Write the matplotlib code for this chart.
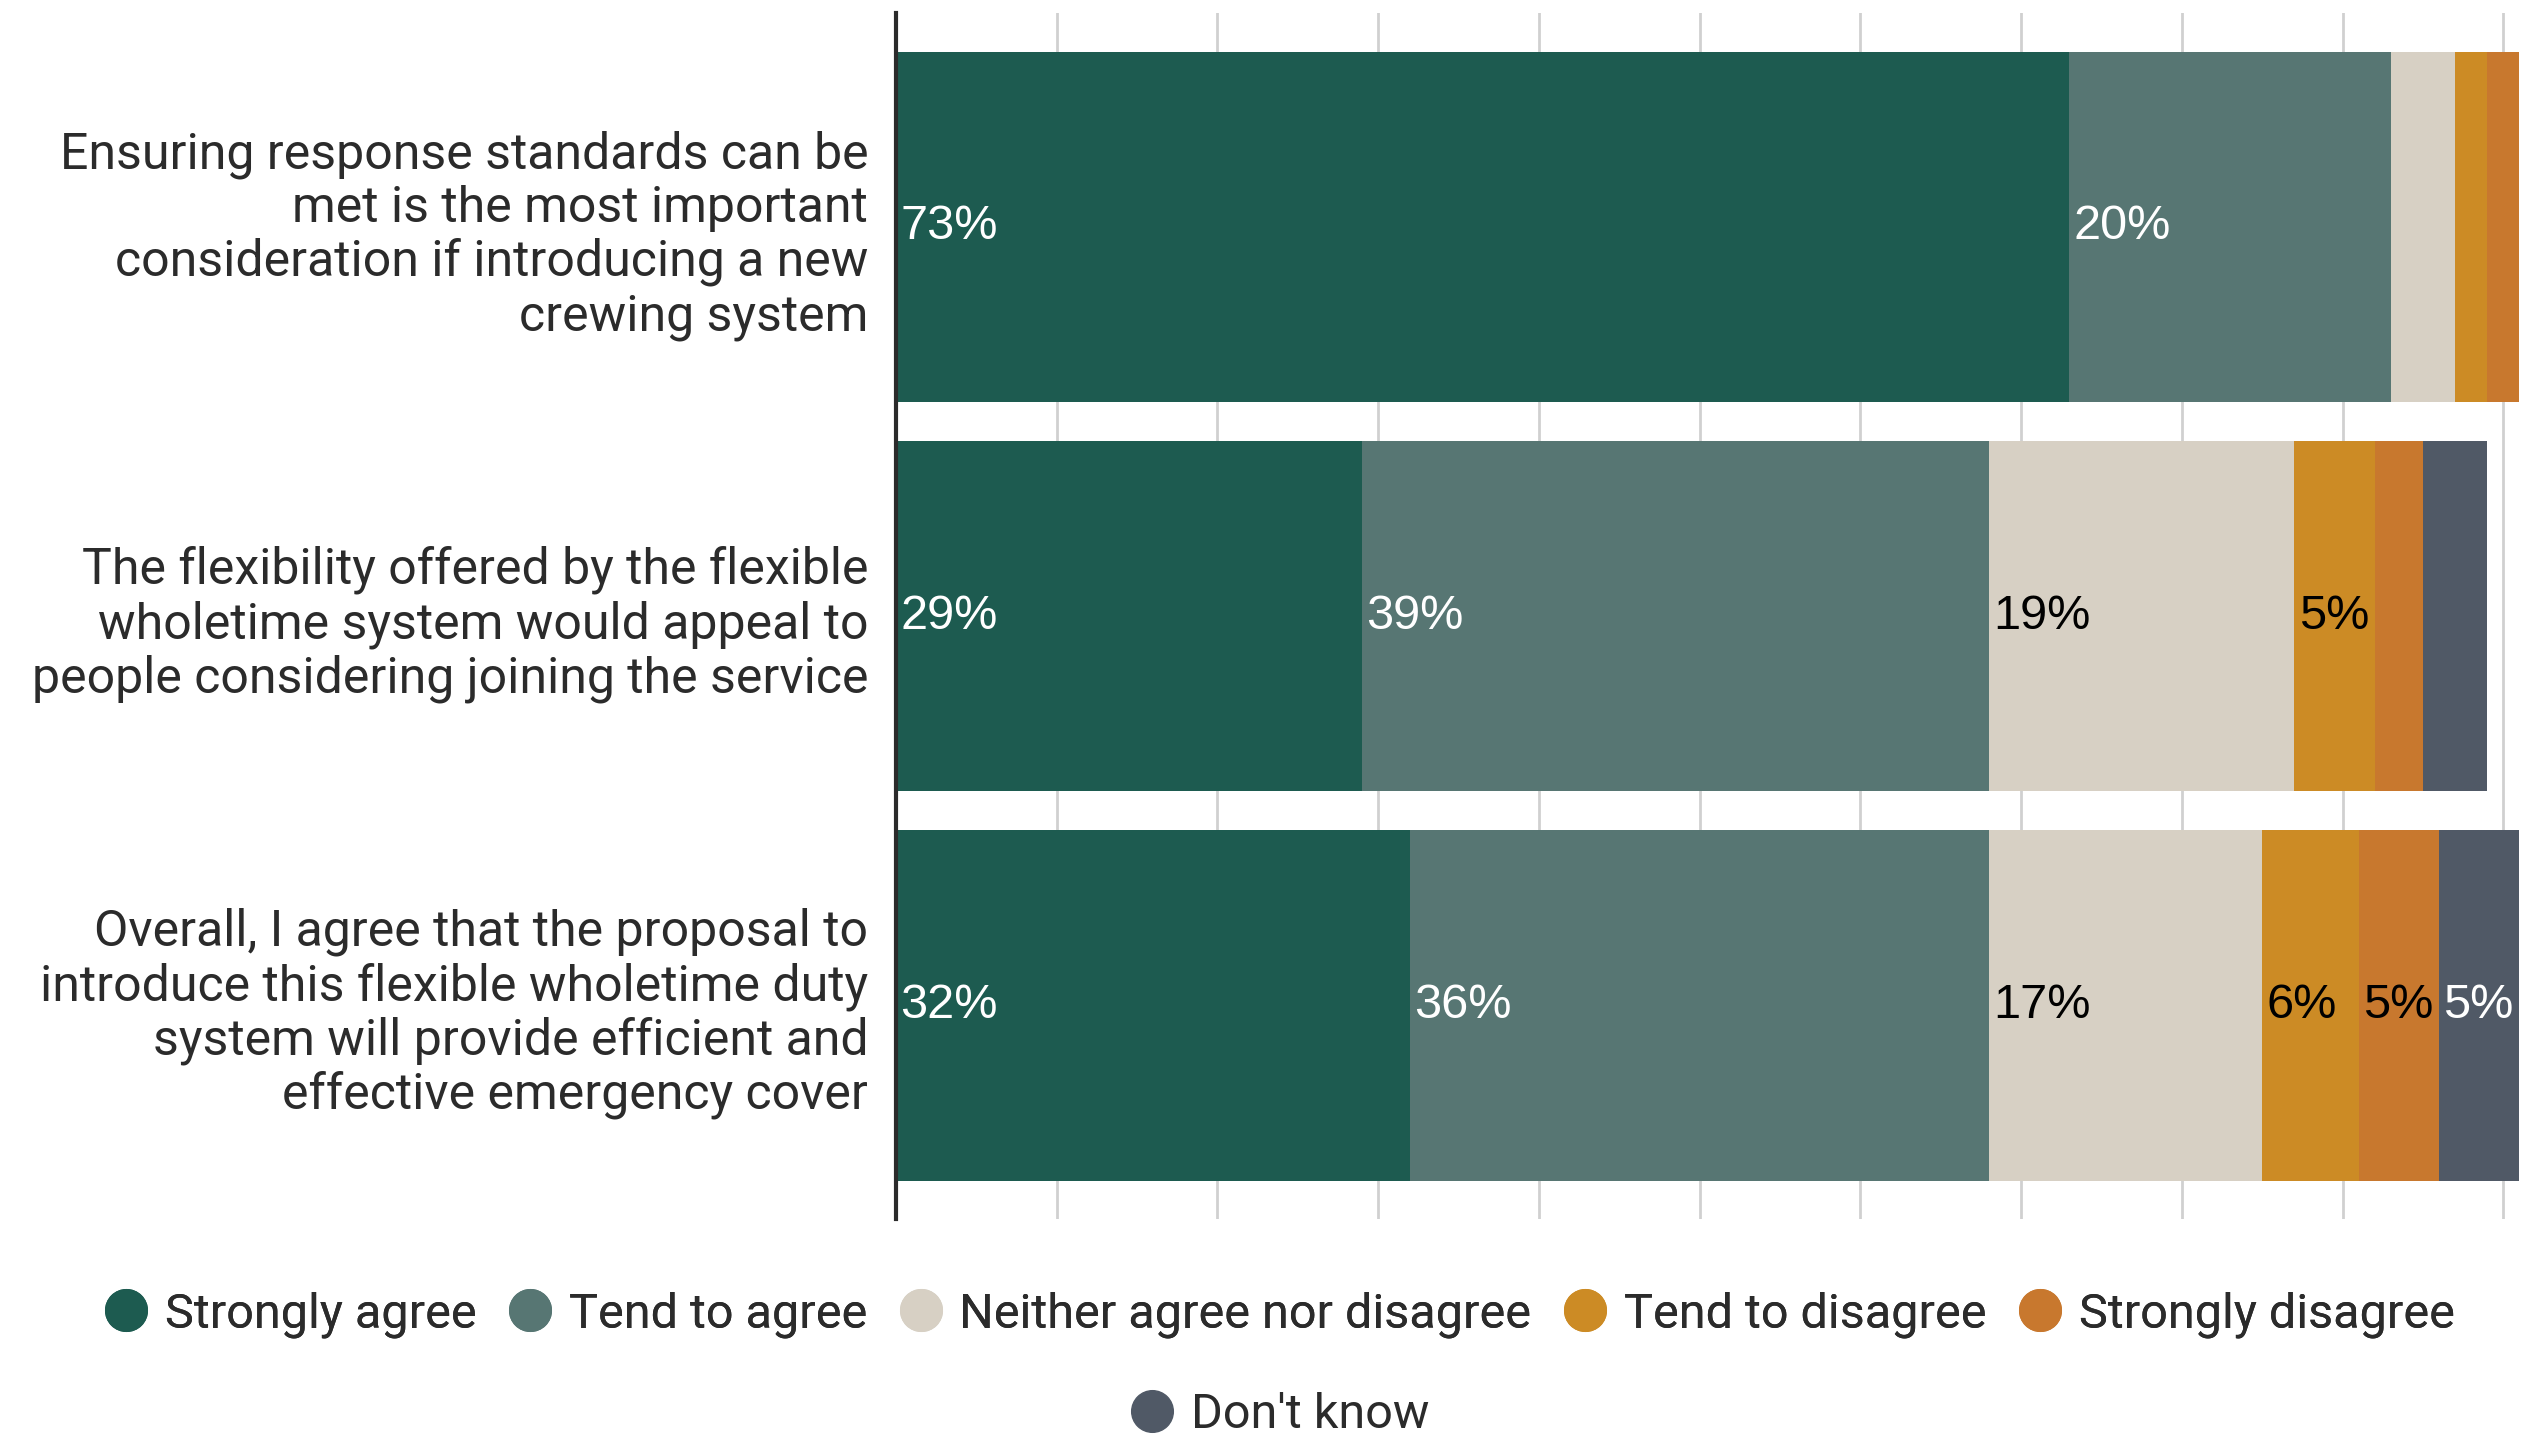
import matplotlib

matplotlib.use("Agg")
import matplotlib.pyplot as plt
from matplotlib.lines import Line2D

questions = [
    "Ensuring response standards can be\nmet is the most important\nconsideration if introducing a new\ncrewing system",
    "The flexibility offered by the flexible\nwholetime system would appeal to\npeople considering joining the service",
    "Overall, I agree that the proposal to\nintroduce this flexible wholetime duty\nsystem will provide efficient and\neffective emergency cover",
]
responses = [
    "Strongly agree",
    "Tend to agree",
    "Neither agree nor disagree",
    "Tend to disagree",
    "Strongly disagree",
    "Don't know",
]
strongly_agree = [73, 29, 32]
tend_agree = [20, 39, 36]
neither = [4, 19, 17]
tend_disagree = [2, 5, 6]
strongly_disagree = [2, 3, 5]
dont_know = [0, 4, 5]

COLORS = ["#1d5b50", "#577673", "#d7d0c4", "#cc8b25", "#c8782e", "#505966"]
LABEL_COLORS = ["white", "white", "black", "black", "black", "white"]
TEXT = "#2b2b2b"

series = [strongly_agree, tend_agree, neither, tend_disagree, strongly_disagree, dont_know]

fig = plt.figure(figsize=(25.21, 14.38), dpi=100)
ax = fig.add_axes([0.3554, 0.152, 0.6446, 0.839])

y = list(range(len(questions)))
left = [0.0] * len(questions)
for vals, col, lcol in zip(series, COLORS, LABEL_COLORS):
    ax.barh(y, vals, left=left, height=0.9, color=col, zorder=3)
    for yi, v, l in zip(y, vals, left):
        if v >= 5:
            ax.annotate(
                f"{v}%",
                (l, yi),
                xytext=(3, 0),
                textcoords="offset points",
                va="center",
                ha="left",
                fontsize=35,
                color=lcol,
                family="Liberation Sans",
                zorder=5,
            )
    left = [a + b for a, b in zip(left, vals)]

ax.set_xlim(0, 101.1)
ax.set_ylim(2.55, -0.55)
ax.set_xticks(range(0, 101, 10))
ax.xaxis.grid(True, color="#d0d0d0", lw=2, zorder=0)
ax.set_axisbelow(True)
ax.tick_params(axis="x", length=0, labelbottom=False)
ax.set_yticks(y)
ax.set_yticklabels(questions, fontsize=36, color=TEXT, family="Roboto", linespacing=1.15)
ax.tick_params(axis="y", length=0, pad=20)
for s in ["top", "right", "bottom"]:
    ax.spines[s].set_visible(False)
ax.spines["left"].set_color(TEXT)
ax.spines["left"].set_linewidth(3)
ax.spines["left"].set_zorder(6)

handles = [
    Line2D([0], [0], marker="o", color="w", markerfacecolor=c, markeredgecolor=c, markersize=30, label=r)
    for c, r in zip(COLORS, responses)
]
leg1 = fig.legend(
    handles=handles[:5],
    loc="center",
    bbox_to_anchor=(0.507, 0.086),
    ncol=5,
    frameon=False,
    prop={"family": "Roboto", "size": 35},
    labelcolor=TEXT,
    handletextpad=0.3,
    columnspacing=0.6,
    handlelength=1.0,
)
fig.add_artist(leg1)
fig.legend(
    handles=handles[5:],
    loc="center",
    bbox_to_anchor=(0.507, 0.016),
    ncol=1,
    frameon=False,
    prop={"family": "Roboto", "size": 35},
    labelcolor=TEXT,
    handletextpad=0.3,
    handlelength=1.0,
)

fig.savefig("out.png", dpi=100, facecolor="white")
